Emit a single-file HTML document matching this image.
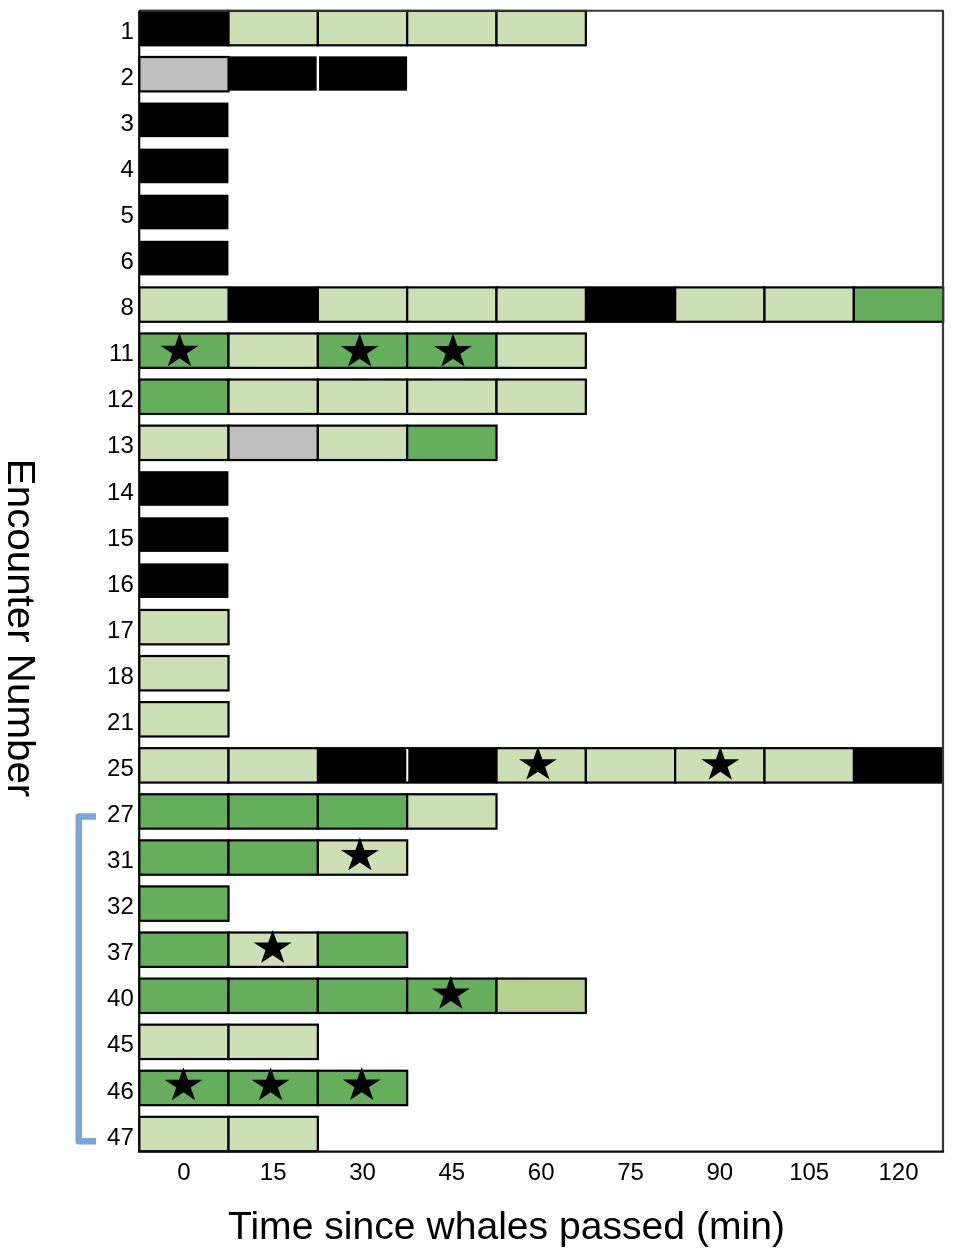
<!DOCTYPE html>
<html><head><meta charset="utf-8"><style>
html,body{margin:0;padding:0;background:#fff;width:961px;height:1259px;overflow:hidden}
svg{display:block}
svg{will-change:transform}
.tl{font-family:"Liberation Sans",sans-serif;font-size:24px;fill:#000}
.tt{font-family:"Liberation Sans",sans-serif;font-size:38.5px;fill:#000}
</style></head><body>
<svg width="961" height="1259" viewBox="0 0 961 1259">
<rect x="139.20" y="9.80" width="89.93" height="36.60" fill="#000"/>
<rect x="228.53" y="56.38" width="89.93" height="34.30" fill="#000"/>
<rect x="317.86" y="56.38" width="89.23" height="34.30" fill="#000"/>
<rect x="316.66" y="55.38" width="2.4" height="37.60" fill="#fff"/>
<rect x="139.20" y="102.56" width="89.23" height="34.60" fill="#000"/>
<rect x="139.20" y="148.64" width="89.23" height="34.60" fill="#000"/>
<rect x="139.20" y="194.72" width="89.23" height="34.60" fill="#000"/>
<rect x="139.20" y="240.80" width="89.23" height="34.60" fill="#000"/>
<rect x="228.53" y="286.28" width="89.93" height="36.60" fill="#000"/>
<rect x="585.85" y="286.28" width="89.93" height="36.60" fill="#000"/>
<rect x="139.20" y="471.20" width="89.23" height="34.60" fill="#000"/>
<rect x="139.20" y="517.28" width="89.23" height="34.60" fill="#000"/>
<rect x="139.20" y="563.36" width="89.23" height="34.60" fill="#000"/>
<rect x="317.86" y="747.08" width="89.93" height="36.60" fill="#000"/>
<rect x="407.19" y="747.08" width="89.93" height="36.60" fill="#000"/>
<rect x="853.84" y="747.08" width="89.23" height="36.60" fill="#000"/>
<rect x="406.29" y="748.98" width="2.0" height="32.40" fill="#fff"/>
<rect x="228.53" y="10.90" width="89.33" height="34.40" fill="#CDDFB4" stroke="#000" stroke-width="2.2"/>
<rect x="317.86" y="10.90" width="89.33" height="34.40" fill="#CDDFB4" stroke="#000" stroke-width="2.2"/>
<rect x="407.19" y="10.90" width="89.33" height="34.40" fill="#CDDFB4" stroke="#000" stroke-width="2.2"/>
<rect x="496.52" y="10.90" width="89.33" height="34.40" fill="#CDDFB4" stroke="#000" stroke-width="2.2"/>
<rect x="139.20" y="56.98" width="89.33" height="34.40" fill="#BFBFBF" stroke="#000" stroke-width="2.2"/>
<rect x="139.20" y="287.38" width="89.33" height="34.40" fill="#CDDFB4" stroke="#000" stroke-width="2.2"/>
<rect x="317.86" y="287.38" width="89.33" height="34.40" fill="#CDDFB4" stroke="#000" stroke-width="2.2"/>
<rect x="407.19" y="287.38" width="89.33" height="34.40" fill="#CDDFB4" stroke="#000" stroke-width="2.2"/>
<rect x="496.52" y="287.38" width="89.33" height="34.40" fill="#CDDFB4" stroke="#000" stroke-width="2.2"/>
<rect x="675.18" y="287.38" width="89.33" height="34.40" fill="#CDDFB4" stroke="#000" stroke-width="2.2"/>
<rect x="764.51" y="287.38" width="89.33" height="34.40" fill="#CDDFB4" stroke="#000" stroke-width="2.2"/>
<rect x="853.84" y="287.38" width="89.33" height="34.40" fill="#65AE5B" stroke="#000" stroke-width="2.2"/>
<rect x="139.20" y="333.46" width="89.33" height="34.40" fill="#65AE5B" stroke="#000" stroke-width="2.2"/>
<rect x="228.53" y="333.46" width="89.33" height="34.40" fill="#CDDFB4" stroke="#000" stroke-width="2.2"/>
<rect x="317.86" y="333.46" width="89.33" height="34.40" fill="#65AE5B" stroke="#000" stroke-width="2.2"/>
<rect x="407.19" y="333.46" width="89.33" height="34.40" fill="#65AE5B" stroke="#000" stroke-width="2.2"/>
<rect x="496.52" y="333.46" width="89.33" height="34.40" fill="#CDDFB4" stroke="#000" stroke-width="2.2"/>
<rect x="139.20" y="379.54" width="89.33" height="34.40" fill="#65AE5B" stroke="#000" stroke-width="2.2"/>
<rect x="228.53" y="379.54" width="89.33" height="34.40" fill="#CDDFB4" stroke="#000" stroke-width="2.2"/>
<rect x="317.86" y="379.54" width="89.33" height="34.40" fill="#CDDFB4" stroke="#000" stroke-width="2.2"/>
<rect x="407.19" y="379.54" width="89.33" height="34.40" fill="#CDDFB4" stroke="#000" stroke-width="2.2"/>
<rect x="496.52" y="379.54" width="89.33" height="34.40" fill="#CDDFB4" stroke="#000" stroke-width="2.2"/>
<rect x="139.20" y="425.62" width="89.33" height="34.40" fill="#CDDFB4" stroke="#000" stroke-width="2.2"/>
<rect x="228.53" y="425.62" width="89.33" height="34.40" fill="#BFBFBF" stroke="#000" stroke-width="2.2"/>
<rect x="317.86" y="425.62" width="89.33" height="34.40" fill="#CDDFB4" stroke="#000" stroke-width="2.2"/>
<rect x="407.19" y="425.62" width="89.33" height="34.40" fill="#65AE5B" stroke="#000" stroke-width="2.2"/>
<rect x="139.20" y="609.94" width="89.33" height="34.40" fill="#CDDFB4" stroke="#000" stroke-width="2.2"/>
<rect x="139.20" y="656.02" width="89.33" height="34.40" fill="#CDDFB4" stroke="#000" stroke-width="2.2"/>
<rect x="139.20" y="702.10" width="89.33" height="34.40" fill="#CDDFB4" stroke="#000" stroke-width="2.2"/>
<rect x="139.20" y="748.18" width="89.33" height="34.40" fill="#CDDFB4" stroke="#000" stroke-width="2.2"/>
<rect x="228.53" y="748.18" width="89.33" height="34.40" fill="#CDDFB4" stroke="#000" stroke-width="2.2"/>
<rect x="496.52" y="748.18" width="89.33" height="34.40" fill="#CDDFB4" stroke="#000" stroke-width="2.2"/>
<rect x="585.85" y="748.18" width="89.33" height="34.40" fill="#CDDFB4" stroke="#000" stroke-width="2.2"/>
<rect x="675.18" y="748.18" width="89.33" height="34.40" fill="#CDDFB4" stroke="#000" stroke-width="2.2"/>
<rect x="764.51" y="748.18" width="89.33" height="34.40" fill="#CDDFB4" stroke="#000" stroke-width="2.2"/>
<rect x="139.20" y="794.26" width="89.33" height="34.40" fill="#65AE5B" stroke="#000" stroke-width="2.2"/>
<rect x="228.53" y="794.26" width="89.33" height="34.40" fill="#65AE5B" stroke="#000" stroke-width="2.2"/>
<rect x="317.86" y="794.26" width="89.33" height="34.40" fill="#65AE5B" stroke="#000" stroke-width="2.2"/>
<rect x="407.19" y="794.26" width="89.33" height="34.40" fill="#CDDFB4" stroke="#000" stroke-width="2.2"/>
<rect x="139.20" y="840.34" width="89.33" height="34.40" fill="#65AE5B" stroke="#000" stroke-width="2.2"/>
<rect x="228.53" y="840.34" width="89.33" height="34.40" fill="#65AE5B" stroke="#000" stroke-width="2.2"/>
<rect x="317.86" y="840.34" width="89.33" height="34.40" fill="#CDDFB4" stroke="#000" stroke-width="2.2"/>
<rect x="139.20" y="886.42" width="89.33" height="34.40" fill="#65AE5B" stroke="#000" stroke-width="2.2"/>
<rect x="139.20" y="932.50" width="89.33" height="34.40" fill="#65AE5B" stroke="#000" stroke-width="2.2"/>
<rect x="228.53" y="932.50" width="89.33" height="34.40" fill="#CDDFB4" stroke="#000" stroke-width="2.2"/>
<rect x="317.86" y="932.50" width="89.33" height="34.40" fill="#65AE5B" stroke="#000" stroke-width="2.2"/>
<rect x="139.20" y="978.58" width="89.33" height="34.40" fill="#65AE5B" stroke="#000" stroke-width="2.2"/>
<rect x="228.53" y="978.58" width="89.33" height="34.40" fill="#65AE5B" stroke="#000" stroke-width="2.2"/>
<rect x="317.86" y="978.58" width="89.33" height="34.40" fill="#65AE5B" stroke="#000" stroke-width="2.2"/>
<rect x="407.19" y="978.58" width="89.33" height="34.40" fill="#65AE5B" stroke="#000" stroke-width="2.2"/>
<rect x="496.52" y="978.58" width="89.33" height="34.40" fill="#B4CF8F" stroke="#000" stroke-width="2.2"/>
<rect x="139.20" y="1024.66" width="89.33" height="34.40" fill="#CDDFB4" stroke="#000" stroke-width="2.2"/>
<rect x="228.53" y="1024.66" width="89.33" height="34.40" fill="#CDDFB4" stroke="#000" stroke-width="2.2"/>
<rect x="139.20" y="1070.74" width="89.33" height="34.40" fill="#65AE5B" stroke="#000" stroke-width="2.2"/>
<rect x="228.53" y="1070.74" width="89.33" height="34.40" fill="#65AE5B" stroke="#000" stroke-width="2.2"/>
<rect x="317.86" y="1070.74" width="89.33" height="34.40" fill="#65AE5B" stroke="#000" stroke-width="2.2"/>
<rect x="139.20" y="1116.82" width="89.33" height="34.40" fill="#CDDFB4" stroke="#000" stroke-width="2.2"/>
<rect x="228.53" y="1116.82" width="89.33" height="34.40" fill="#CDDFB4" stroke="#000" stroke-width="2.2"/>
<path d="M0.00,0.00 L4.47,12.58 L18.93,12.58 L7.23,20.36 L11.70,32.94 L0.00,25.16 L-11.70,32.94 L-7.23,20.36 L-18.93,12.58 L-4.47,12.58 Z" transform="translate(179.5,333.2)" fill="#000"/>
<path d="M0.00,0.00 L4.47,12.58 L18.93,12.58 L7.23,20.36 L11.70,32.94 L0.00,25.16 L-11.70,32.94 L-7.23,20.36 L-18.93,12.58 L-4.47,12.58 Z" transform="translate(359.7,333.5)" fill="#000"/>
<path d="M0.00,0.00 L4.47,12.58 L18.93,12.58 L7.23,20.36 L11.70,32.94 L0.00,25.16 L-11.70,32.94 L-7.23,20.36 L-18.93,12.58 L-4.47,12.58 Z" transform="translate(453.0,333.5)" fill="#000"/>
<path d="M0.00,0.00 L4.47,12.58 L18.93,12.58 L7.23,20.36 L11.70,32.94 L0.00,25.16 L-11.70,32.94 L-7.23,20.36 L-18.93,12.58 L-4.47,12.58 Z" transform="translate(537.9,746.6)" fill="#000"/>
<path d="M0.00,0.00 L4.47,12.58 L18.93,12.58 L7.23,20.36 L11.70,32.94 L0.00,25.16 L-11.70,32.94 L-7.23,20.36 L-18.93,12.58 L-4.47,12.58 Z" transform="translate(720.3,746.7)" fill="#000"/>
<path d="M0.00,0.00 L4.47,12.58 L18.93,12.58 L7.23,20.36 L11.70,32.94 L0.00,25.16 L-11.70,32.94 L-7.23,20.36 L-18.93,12.58 L-4.47,12.58 Z" transform="translate(359.9,837.3)" fill="#000"/>
<path d="M0.00,0.00 L4.47,12.58 L18.93,12.58 L7.23,20.36 L11.70,32.94 L0.00,25.16 L-11.70,32.94 L-7.23,20.36 L-18.93,12.58 L-4.47,12.58 Z" transform="translate(272.7,930.0)" fill="#000"/>
<path d="M0.00,0.00 L4.47,12.58 L18.93,12.58 L7.23,20.36 L11.70,32.94 L0.00,25.16 L-11.70,32.94 L-7.23,20.36 L-18.93,12.58 L-4.47,12.58 Z" transform="translate(450.8,975.9)" fill="#000"/>
<path d="M0.00,0.00 L4.47,12.58 L18.93,12.58 L7.23,20.36 L11.70,32.94 L0.00,25.16 L-11.70,32.94 L-7.23,20.36 L-18.93,12.58 L-4.47,12.58 Z" transform="translate(183.5,1067.2)" fill="#000"/>
<path d="M0.00,0.00 L4.47,12.58 L18.93,12.58 L7.23,20.36 L11.70,32.94 L0.00,25.16 L-11.70,32.94 L-7.23,20.36 L-18.93,12.58 L-4.47,12.58 Z" transform="translate(270.6,1067.2)" fill="#000"/>
<path d="M0.00,0.00 L4.47,12.58 L18.93,12.58 L7.23,20.36 L11.70,32.94 L0.00,25.16 L-11.70,32.94 L-7.23,20.36 L-18.93,12.58 L-4.47,12.58 Z" transform="translate(361.7,1067.0)" fill="#000"/>
<path d="M139.2,10.75 H943 V1151.6" fill="none" stroke="#383838" stroke-width="2.2" stroke-linejoin="round"/>
<path d="M139.2,10.75 V1151.6 H944.1" fill="none" stroke="#0d0d0d" stroke-width="2.2"/>
<text x="133.8" y="38.70" text-anchor="end" class="tl">1</text>
<text x="133.8" y="84.78" text-anchor="end" class="tl">2</text>
<text x="133.8" y="130.86" text-anchor="end" class="tl">3</text>
<text x="133.8" y="176.94" text-anchor="end" class="tl">4</text>
<text x="133.8" y="223.02" text-anchor="end" class="tl">5</text>
<text x="133.8" y="269.10" text-anchor="end" class="tl">6</text>
<text x="133.8" y="315.18" text-anchor="end" class="tl">8</text>
<text x="133.8" y="361.26" text-anchor="end" class="tl">11</text>
<text x="133.8" y="407.34" text-anchor="end" class="tl">12</text>
<text x="133.8" y="453.42" text-anchor="end" class="tl">13</text>
<text x="133.8" y="499.50" text-anchor="end" class="tl">14</text>
<text x="133.8" y="545.58" text-anchor="end" class="tl">15</text>
<text x="133.8" y="591.66" text-anchor="end" class="tl">16</text>
<text x="133.8" y="637.74" text-anchor="end" class="tl">17</text>
<text x="133.8" y="683.82" text-anchor="end" class="tl">18</text>
<text x="133.8" y="729.90" text-anchor="end" class="tl">21</text>
<text x="133.8" y="775.98" text-anchor="end" class="tl">25</text>
<text x="133.8" y="822.06" text-anchor="end" class="tl">27</text>
<text x="133.8" y="868.14" text-anchor="end" class="tl">31</text>
<text x="133.8" y="914.22" text-anchor="end" class="tl">32</text>
<text x="133.8" y="960.30" text-anchor="end" class="tl">37</text>
<text x="133.8" y="1006.38" text-anchor="end" class="tl">40</text>
<text x="133.8" y="1052.46" text-anchor="end" class="tl">45</text>
<text x="133.8" y="1098.54" text-anchor="end" class="tl">46</text>
<text x="133.8" y="1144.62" text-anchor="end" class="tl">47</text>
<text x="183.86" y="1179.7" text-anchor="middle" class="tl">0</text>
<text x="273.19" y="1179.7" text-anchor="middle" class="tl">15</text>
<text x="362.53" y="1179.7" text-anchor="middle" class="tl">30</text>
<text x="451.86" y="1179.7" text-anchor="middle" class="tl">45</text>
<text x="541.18" y="1179.7" text-anchor="middle" class="tl">60</text>
<text x="630.51" y="1179.7" text-anchor="middle" class="tl">75</text>
<text x="719.85" y="1179.7" text-anchor="middle" class="tl">90</text>
<text x="809.17" y="1179.7" text-anchor="middle" class="tl">105</text>
<text x="898.50" y="1179.7" text-anchor="middle" class="tl">120</text>
<text x="228" y="1239" class="tt" textLength="557" lengthAdjust="spacingAndGlyphs">Time since whales passed (min)</text>
<text transform="translate(8.3,458.8) rotate(90)" x="0" y="0" class="tt" textLength="338.5" lengthAdjust="spacingAndGlyphs">Encounter Number</text>
<path d="M96,816.5 H78.75 V1141.25 H96" fill="none" stroke="#7AA6DB" stroke-width="6.6" stroke-linejoin="round"/>
</svg>
</body></html>
